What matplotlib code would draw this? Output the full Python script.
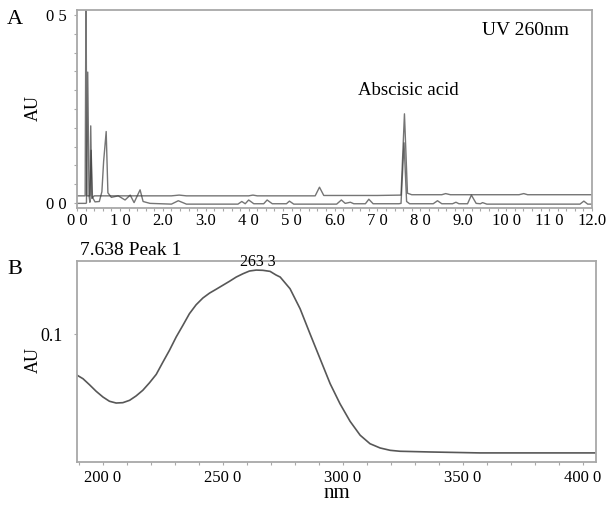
import matplotlib
matplotlib.use("Agg")
import matplotlib.pyplot as plt
from matplotlib.ticker import MultipleLocator

plt.rcParams['font.family'] = ['Liberation Serif', 'DejaVu Serif']

# ---- panel A: chromatograms (time in min, absorbance in AU) ----
# upper trace (offset baseline)
t_upper = [0.0, 0.19, 0.21, 0.23, 0.30, 0.32, 0.345, 0.40, 2.2, 2.38, 2.55, 4.0, 4.1, 4.2,
           5.55, 5.65, 5.75, 7.0, 7.55, 7.63, 7.70, 7.80, 8.5, 8.59, 8.7, 10.3, 10.41, 10.5, 12.0]
au_upper = [0.019, 0.019, 0.60, 0.019, 0.019, 0.205, 0.012, 0.019, 0.019, 0.021, 0.019, 0.019, 0.021, 0.019,
            0.019, 0.042, 0.020, 0.020, 0.021, 0.237, 0.026, 0.022, 0.022, 0.025, 0.022, 0.022, 0.025, 0.022, 0.022]

# lower trace
t_lower = [0.0, 0.20, 0.22, 0.25, 0.28, 0.30, 0.33, 0.36, 0.42, 0.52, 0.58, 0.62, 0.68, 0.72, 0.80,
           0.96, 1.12, 1.24, 1.33, 1.47, 1.54, 1.70, 2.20, 2.36, 2.55, 3.75, 3.84, 3.92, 4.0, 4.12,
           4.35, 4.43, 4.55, 4.88, 4.95, 5.05, 6.05, 6.16, 6.25, 6.37, 6.45, 6.72, 6.80, 6.90, 7.50,
           7.55, 7.62, 7.68, 7.75, 8.3, 8.40, 8.5, 8.75, 8.83, 8.9, 9.10, 9.19, 9.30, 9.40, 9.45,
           9.55, 11.72, 11.81, 11.9, 12.0]
au_lower = [-0.001, -0.001, 0.0, 0.348, 0.020, 0.002, 0.140, 0.015, 0.003, 0.004, 0.030, 0.110, 0.190, 0.027, 0.015,
            0.019, 0.008, 0.021, 0.001, 0.035, 0.004, -0.001, -0.003, 0.006, -0.003, -0.003, 0.004, -0.002, 0.008, -0.002,
            -0.002, 0.008, -0.002, -0.002, 0.005, -0.003, -0.003, 0.008, -0.001, 0.002, -0.002, -0.002, 0.010, -0.002, -0.002,
            -0.001, 0.160, 0.004, -0.002, -0.002, 0.006, -0.002, -0.002, 0.002, -0.002, -0.002, 0.021, -0.001, -0.002, 0.001,
            -0.003, -0.003, 0.005, -0.003, -0.003]

a_xticks = [0, 1, 2, 3, 4, 5, 6, 7, 8, 9, 10, 11, 12]
a_xlabels = ["0 0", "1 0", "2.0", "3.0", "4 0", "5 0", "6.0", "7 0", "8 0", "9.0", "10 0", "11 0", "12.0"]
a_yticks = [0.0, 0.5]
a_ylabels = ["0 0", "0 5"]

# ---- panel B: UV spectrum of peak at 7.638 min ----
wl = [189.0, 191.8, 194.5, 197.3, 200.1, 202.8, 205.6, 208.4, 211.2, 213.9, 216.7, 219.5, 222.3,
      225.1, 227.8, 230.6, 233.4, 236.1, 238.9, 241.7, 244.5, 247.2, 250.0, 252.8, 255.6, 258.4,
      261.1, 263.9, 266.7, 269.7, 272.2, 273.9, 278.0, 282.2, 286.3, 290.5, 294.7, 298.8, 303.0,
      307.2, 311.3, 315.5, 319.7, 323.8, 336.3, 357.1, 405.0]
au_spec = [0.0655, 0.0621, 0.0570, 0.0514, 0.0466, 0.0430, 0.0415, 0.0418, 0.0438, 0.0475, 0.0523, 0.0587, 0.0658,
           0.0763, 0.0862, 0.0975, 0.1074, 0.1172, 0.1248, 0.1305, 0.1347, 0.1379, 0.1413, 0.1447, 0.1483, 0.1511,
           0.1534, 0.1542, 0.1540, 0.1531, 0.1500, 0.1483, 0.1384, 0.1214, 0.1003, 0.0791, 0.0579, 0.0409, 0.0260,
           0.0142, 0.0070, 0.0034, 0.0014, 0.0006, 0.0000, -0.0008, -0.0008]

b_xticks = [200, 250, 300, 350, 400]
b_xlabels = ["200 0", "250 0", "300 0", "350 0", "400 0"]

frame_col = "#a8a8a8"
line_col = "#3a3a3a"

fig = plt.figure(figsize=(6.06, 5.07), dpi=100)
axA = fig.add_axes([77/606, 1 - 208/507, 515/606, 198/507])
axB = fig.add_axes([77/606, 1 - 462/507, 519/606, 201/507])

for ax in (axA, axB):
    for s in ax.spines.values():
        s.set_color(frame_col)
        s.set_linewidth(1.3)
    ax.tick_params(which='both', color=frame_col, length=2.5, width=0.8, direction='out')

# panel A
axA.plot(t_upper, au_upper, color=line_col, lw=1.0, alpha=0.7)
axA.plot(t_lower, au_lower, color=line_col, lw=1.0, alpha=0.7)
axA.set_xlim(0, 12)
axA.set_ylim(-0.0133, 0.513)
axA.set_xticks(a_xticks)
axA.set_xticklabels(a_xlabels, fontsize=12)
axA.set_yticks(a_yticks)
axA.set_yticklabels(a_ylabels, fontsize=12)
axA.xaxis.set_minor_locator(MultipleLocator(0.2))
axA.yaxis.set_minor_locator(MultipleLocator(0.05))
axA.tick_params(axis='x', pad=1)
axA.tick_params(axis='y', pad=5)
axA.text(0.87, 0.894, "UV 260nm", transform=axA.transAxes, fontsize=14, ha='center', va='center')
axA.text(7.73, 0.30, "Abscisic acid", fontsize=13.5, ha='center', va='center')

# panel B
axB.plot(wl, au_spec, color=line_col, lw=1.2, alpha=0.85, solid_joinstyle='round')
axB.set_xlim(189.3, 405.4)
axB.set_ylim(-0.0085, 0.1619)
axB.set_xticks(b_xticks)
axB.set_xticklabels(b_xlabels, fontsize=12)
axB.set_yticks([0.1])
axB.set_yticklabels(["0.1"], fontsize=13)
axB.xaxis.set_minor_locator(MultipleLocator(10))
axB.tick_params(axis='x', pad=3)
axB.tick_params(axis='y', pad=8)
axB.set_xlabel("nm", fontsize=15, labelpad=-1)
axB.text(264.5, 0.1545, "263 3", fontsize=11.5, ha='center', va='bottom')

# labels outside axes
fig.text(15/606, 1 - 19/507, "A", fontsize=16, ha='center', va='center')
fig.text(15/606, 1 - 270/507, "B", fontsize=16, ha='center', va='center')
fig.text(33/606, 1 - 108/507, "AU", fontsize=13, rotation=90, ha='center', va='center')
fig.text(33/606, 1 - 360/507, "AU", fontsize=13, rotation=90, ha='center', va='center')
fig.text(80/606, 1 - 250/507, "7.638 Peak 1", fontsize=14, ha='left', va='center')

fig.savefig("out.png", dpi=100)
